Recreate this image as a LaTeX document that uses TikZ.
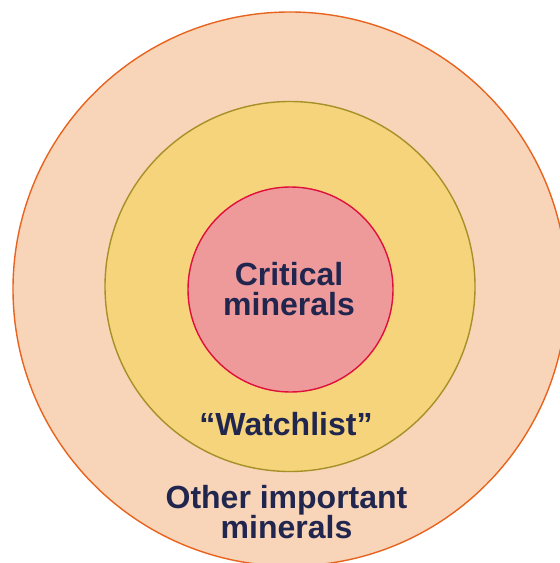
\documentclass[tikz,border=0pt]{standalone}
\usepackage{fontspec}
\setmainfont{Liberation Sans}
\definecolor{outerfill}{HTML}{F8D4B8}
\definecolor{outerline}{HTML}{E8641E}
\definecolor{midfill}{HTML}{F5D47B}
\definecolor{midline}{HTML}{A89028}
\definecolor{innerfill}{HTML}{EE9A9A}
\definecolor{innerline}{HTML}{E0103C}
\definecolor{navy}{HTML}{21264F}
\begin{document}
\begin{tikzpicture}[x=1bp,y=-1bp,
  ring/.style={circle,inner sep=0pt,outer sep=0pt},
  lbl/.style={font=\fontsize{32bp}{30bp}\selectfont\bfseries,text=navy,align=center,anchor=base,inner sep=0pt}]
\useasboundingbox (0,0) rectangle (560,563);
\clip (0,0) rectangle (560,563);
\node[ring,minimum size=554bp,draw=outerline,fill=outerfill,line width=1.4bp] (outer) at (290,289) {};
\node[ring,minimum size=370bp,draw=midline,fill=midfill,line width=1.4bp] (middle) at (290,286.5) {};
\node[ring,minimum size=205bp,draw=innerline,fill=innerfill,line width=1.4bp] (inner) at (290.5,289.5) {};
\node[lbl] (crit) at (289,315) {Critical\\minerals};
\node[lbl] (watch) at (286,435) {“Watchlist”};
\node[lbl] (other) at (286.5,538) {Other important\\minerals};
\end{tikzpicture}
\end{document}
